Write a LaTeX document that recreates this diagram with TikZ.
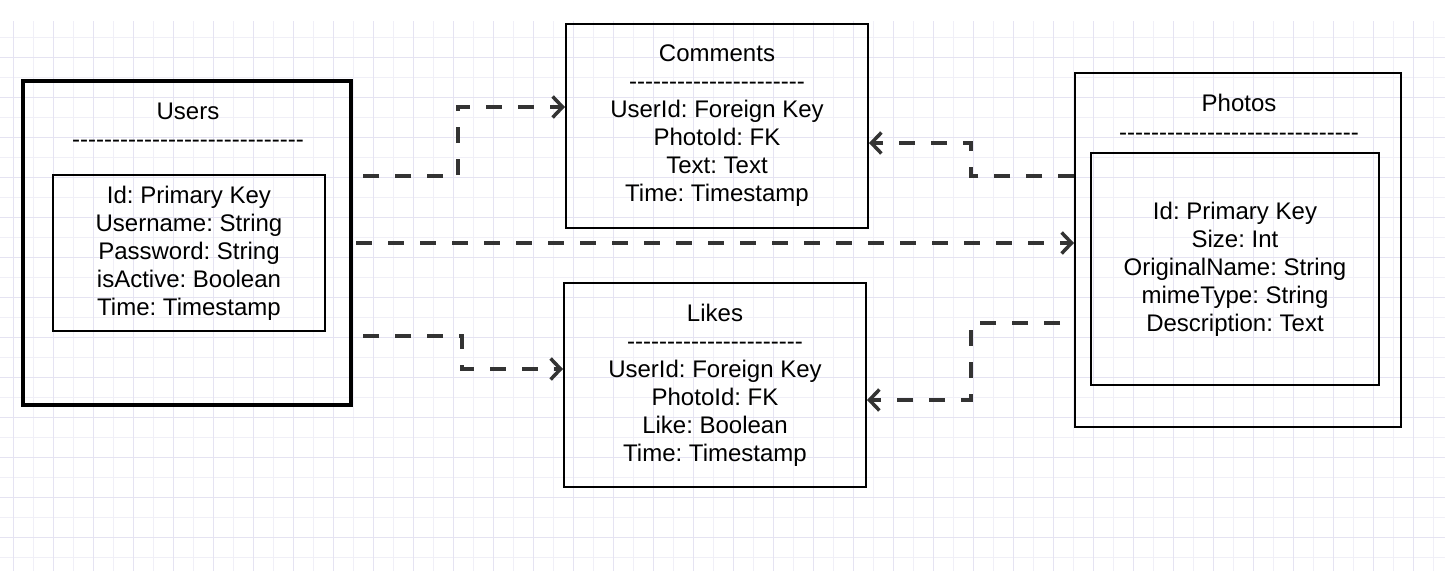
\documentclass[tikz,border=0pt]{standalone}
\usepackage{fontspec}
\setmainfont{Liberation Sans}[Ligatures=TeXOff]
\usetikzlibrary{positioning,arrows.meta}
\definecolor{gridlight}{RGB}{240,239,247}
\definecolor{griddark}{RGB}{229,227,242}
\definecolor{linkgray}{RGB}{51,51,51}
\frenchspacing
\tikzset{
  table/.style={draw, rectangle, inner sep=0pt, line width=2pt, align=center,
    font=\fontsize{24}{28}\selectfont},
  bigtable/.style={table, line width=4pt},
  heading/.style={align=center, inner sep=0pt, font=\fontsize{24}{28.5}\selectfont},
  link/.style={draw=linkgray, line width=3.5pt, dash pattern=on 16pt off 16pt,
    -{Straight Barb[length=10pt,width=21pt]}}
}

\begin{document}
\begin{tikzpicture}[x=1pt, y=-1pt]
            \useasboundingbox (0,0) rectangle (1445,571);
            % background grid
            \foreach \x in {13,33,...,1433} \draw[gridlight, line width=1pt] (\x,21) -- (\x,571);
            \foreach \y in {37,57,...,557} \draw[gridlight, line width=1pt] (0,\y) -- (1445,\y);
            \foreach \x in {13,53,...,1433} \draw[griddark, line width=1pt] (\x,21) -- (\x,571);
            \foreach \y in {57,97,...,537} \draw[griddark, line width=1pt] (0,\y) -- (1445,\y);

            \node [bigtable, minimum width=328pt, minimum height=324pt] (users) at (187,243) {};
            \node [heading] (users head) at (188,125) {Users\\-----------------------------};
            \node [table, minimum width=272pt, minimum height=156pt] (users fields) at (189,253)
                {Id: Primary Key\\Username: String\\Password: String\\isActive: Boolean\\Time: Timestamp};

            \node [table, minimum width=302pt, minimum height=204pt] (comments) at (717,126)
                {Comments\\----------------------\\UserId: Foreign Key\\PhotoId: FK\\Text: Text\\Time: Timestamp};
            \node [table, minimum width=302pt, minimum height=204pt] (likes) at (715,385)
                {Likes\\----------------------\\UserId: Foreign Key\\PhotoId: FK\\Like: Boolean\\Time: Timestamp};

            \node [table, minimum width=326pt, minimum height=354pt] (photos) at (1238,250) {};
            \node [heading] (photos head) at (1239,117.5) {Photos\\------------------------------};
            \node [table, minimum width=288pt, minimum height=232pt] (photos fields) at (1235,269)
                {Id: Primary Key\\Size: Int\\OriginalName: String\\mimeType: String\\Description: Text};

            \coordinate (u1) at (363,176);
            \coordinate (u2) at (356,243);
            \coordinate (u3) at (363,336);
            \coordinate (p2) at (1060,323);

            \draw[link] (u1) -| (458,107) -- (comments.west |- 0,107);
            \draw[link] (u2) -- (photos.west |- 0,243);
            \draw[link] (u3) -| (462,369) -- (likes.west |- 0,369);
            \draw[link] (photos.west |- 0,176) -| (971,143) -- (comments.east |- 0,143);
            \draw[link] (p2) -| (971,400) -- (likes.east |- 0,400);
        \end{tikzpicture}
\end{document}
